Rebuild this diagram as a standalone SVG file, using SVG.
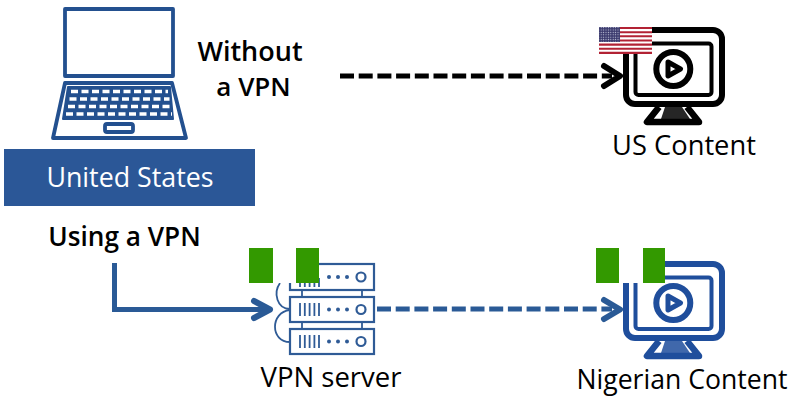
<svg xmlns="http://www.w3.org/2000/svg" width="805" height="415" viewBox="0 0 805 415">
<style>
text{font-family:"Open Sans","Noto Sans",sans-serif;fill:#000;text-anchor:middle}
.b{font-weight:600}
.lap{fill:none;stroke:#23508f;stroke-width:3.800;stroke-linejoin:round}
.srv{fill:#fff;stroke:#2f5b96;stroke-width:2.200}
.tick{fill:none;stroke:#2f5b96;stroke-width:1.800}
.dot{fill:#2f5b96}
.head{fill:none;stroke-width:6;stroke-linecap:round;stroke-linejoin:round}
.dash{fill:none;stroke-width:5.200;stroke-dasharray:14 4.700}
.g{fill:#339900}
</style>
<defs>
<pattern id="stars" width="2.400" height="2.400" patternUnits="userSpaceOnUse">
<rect width="2.400" height="2.400" fill="#3c3b6e"/>
<circle cx="1.200" cy="1.200" r="0.600" fill="#c9cde0"/>
</pattern>
<g id="monitor">
<rect x="626" y="30" width="96" height="74" rx="9" fill="none" stroke="currentColor" stroke-width="6"/>
<rect x="635.500" y="43.500" width="76" height="51.500" rx="3" fill="none" stroke="currentColor" stroke-width="4"/>
<circle cx="673.300" cy="69" r="17" fill="none" stroke="currentColor" stroke-width="6"/>
<path d="M668 62L680.500 69L668 76Z" fill="none" stroke="currentColor" stroke-width="5" stroke-linejoin="round"/>
<path d="M659 107L647 122H699L687 107" fill="none" stroke="currentColor" stroke-width="6.500" stroke-linejoin="round"/>
<path d="M665 107H682L690 119H661Z" fill="currentColor" opacity="0.850"/>
</g>
</defs>
<rect width="805" height="415" fill="#fff"/>
<g id="laptop">
<rect class="lap" x="65" y="9" width="108" height="67"/>
<path class="lap" d="M65 83H172L186 138H53Z"/>
<path d="M68 87H170L173 119H63Z" fill="#23508f" stroke="#23508f" stroke-linejoin="round" stroke-width="2"/>
<path d="M71 91.500H168M69.500 99H169.500M68 106.500H171M66 114H172" stroke="#fff" stroke-width="3.500" stroke-dasharray="7 3.500" fill="none"/>
<rect class="lap" x="105" y="124" width="28" height="8" rx="2"/>
</g>
<g id="united-states">
<rect x="4" y="149" width="251" height="57" fill="#2b5797"/>
<text x="130" y="187" font-size="26.800" style="fill:#fff">United States</text>
</g>
<g id="without-label">
<text x="250" y="61" class="b" font-size="27">Without</text>
<text x="253.500" y="96" class="b" font-size="26">a VPN</text>
</g>
<g id="using-label"><text x="124.500" y="246" class="b" font-size="26.200">Using a VPN</text></g>
<g id="connectors">
<path class="dash" d="M340 76H612" stroke="#000"/>
<path class="head" d="M604 66L620 76L604 86" stroke="#000"/>
<path d="M114.500 263V309.500H268" fill="none" stroke="#2a5a96" stroke-width="5"/>
<path class="head" d="M254 301L270 309.500L254 318" stroke="#2a5a96"/>
<path class="dash" d="M377 309H612" stroke="#2a5a96"/>
<path class="head" d="M604 300L620 309.500L604 319" stroke="#2a5a96"/>
</g>
<g id="us-content">
<use href="#monitor" color="#000"/>
<rect x="599" y="27" width="53" height="27" fill="#b22234"/>
<path d="M599 30.100H652M599 34.200H652M599 38.400H652M599 42.500H652M599 46.700H652M599 50.800H652" stroke="#fff" stroke-width="2.080"/>
<rect x="599" y="27" width="21" height="15" fill="url(#stars)"/>
<text x="684" y="155" font-size="27.300">US Content</text>
</g>
<g id="vpn-server">
<rect class="srv" x="290" y="264" width="84" height="26"/>
<rect class="srv" x="290" y="297" width="84" height="25"/>
<rect class="srv" x="290" y="329" width="84" height="25"/>
<path class="tick" d="M302 290V297M362 290V297M302 322V329M362 322V329M280 283C273 293 277 309 290 309M290 310C270 312 270 342 290 342"/>
<path class="tick" d="M300 278V287M304.800 278V287M309.600 278V287M314.400 278V287M319 278V287M300 303V316M304.800 303V316M309.600 303V316M314.400 303V316M319 303V316M300 335V348M304.800 335V348M309.600 335V348M314.400 335V348M319 335V348"/>
<g class="dot"><circle cx="329" cy="277" r="2"/><circle cx="338" cy="277" r="2"/><circle cx="347" cy="277" r="2"/><circle cx="329" cy="309.500" r="2"/><circle cx="338" cy="309.500" r="2"/><circle cx="347" cy="309.500" r="2"/><circle cx="329" cy="341.500" r="2"/><circle cx="338" cy="341.500" r="2"/><circle cx="347" cy="341.500" r="2"/></g>
<circle class="srv" cx="361" cy="277" r="4.500"/><circle class="srv" cx="361" cy="309.500" r="4.500"/><circle class="srv" cx="361" cy="341.500" r="4.500"/>
<rect x="273" y="248" width="23" height="35" fill="#fff"/>
<rect class="g" x="249" y="248" width="24" height="35"/>
<rect class="g" x="296" y="248" width="23" height="35"/>
<text x="331" y="387" font-size="27.500">VPN server</text>
</g>
<g id="nigerian-content">
<use href="#monitor" y="234" color="#1f4e9c"/>
<rect x="619" y="248" width="24" height="35" fill="#fff"/>
<rect class="g" x="596" y="248" width="23" height="35"/>
<rect class="g" x="643" y="248" width="22" height="35"/>
<text x="682" y="389" font-size="26.600">Nigerian Content</text>
</g>
</svg>
